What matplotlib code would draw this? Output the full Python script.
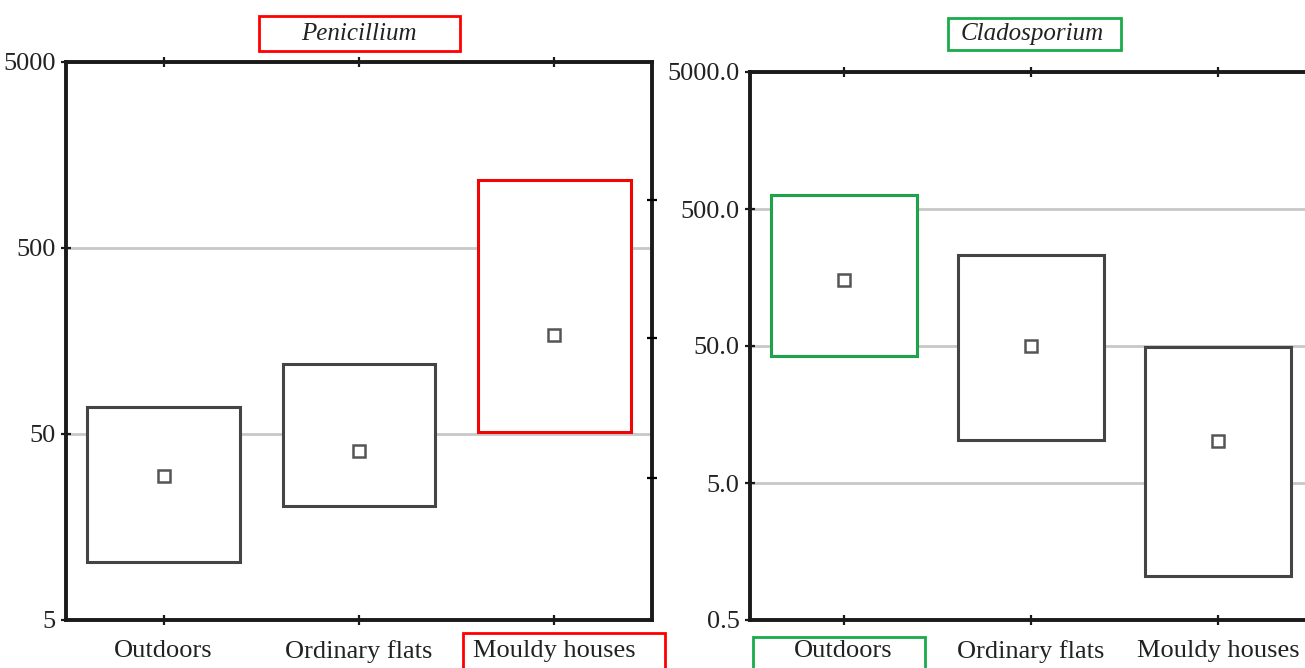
import matplotlib.pyplot as plt
from matplotlib.patches import Rectangle

plt.rcParams['font.family'] = ['Liberation Serif', 'DejaVu Serif']

# Categorias e valores (média, mínimo, máximo) de cada gênero
categorias = ['Outdoors', 'Ordinary flats', 'Mouldy houses']

pen_media = [29.7, 40.5, 170]
pen_min = [10.3, 20.5, 51]
pen_max = [70, 119, 1160]

clad_media = [152, 50, 10.1]
clad_min = [42, 10.3, 1.05]
clad_max = [632, 231, 49]

pen_yticks = [5, 50, 500, 5000]
pen_ylabels = ['5', '50', '500', '5000']
clad_yticks = [0.5, 5, 50, 500, 5000]
clad_ylabels = ['0.5', '5.0', '50.0', '500.0', '5000.0']

# marcas do eixo direito do painel da esquerda
pen_ticks_direita = [29, 164, 906]

W, H = 1305, 668
fig = plt.figure(figsize=(W / 100, H / 100), dpi=100)


def px(x0, y0, x1, y1):
    # converte caixa em pixels (origem no topo) para fração da figura
    return [x0 / W, 1 - y1 / H, (x1 - x0) / W, (y1 - y0) / H]


ax1 = fig.add_axes(px(66, 62, 652, 620))
ax2 = fig.add_axes(px(750, 72, 1312, 620))

LARG = 0.78


def desenhar_painel(ax, media, minimo, maximo, ylim, yticks, ylabels):
    ax.set_yscale('log')
    ax.set_xlim(-0.5, 2.5)
    ax.set_ylim(*ylim)
    for i in range(len(categorias)):
        ax.add_patch(Rectangle((i - LARG / 2, minimo[i]), LARG, maximo[i] - minimo[i],
                               facecolor='white', edgecolor='#444444', lw=2.2, zorder=2))
        ax.plot(i, media[i], marker='s', ms=8, mfc='white', mec='#555555', mew=1.8, zorder=3)
    ax.set_yticks(yticks)
    ax.set_yticklabels(ylabels)
    ax.minorticks_off()
    ax.set_xticks(range(len(categorias)))
    ax.set_xticklabels(categorias)
    ax.yaxis.grid(True, color='#c8c8c8', lw=2)
    ax.set_axisbelow(True)
    for s in ax.spines.values():
        s.set_linewidth(2.8)
        s.set_color('#1a1a1a')
    ax.tick_params(axis='both', direction='inout', length=7, width=1.6, labelsize=19,
                   color='#1a1a1a', labelcolor='#222222', top=True)
    ax.tick_params(axis='x', pad=11)
    ax.tick_params(axis='y', pad=4)


desenhar_painel(ax1, pen_media, pen_min, pen_max, (5, 5000), pen_yticks, pen_ylabels)
desenhar_painel(ax2, clad_media, clad_min, clad_max, (0.5, 5000), clad_yticks, clad_ylabels)

ax1d = ax1.twinx()
ax1d.set_yscale('log')
ax1d.set_ylim(5, 5000)
ax1d.set_yticks(pen_ticks_direita)
ax1d.minorticks_off()
ax1d.set_yticklabels([])
ax1d.tick_params(direction='inout', length=7, width=1.6)
for s in ax1d.spines.values():
    s.set_visible(False)

# destaques
i = 2
ax1.add_patch(Rectangle((i - LARG / 2, pen_min[i]), LARG, pen_max[i] - pen_min[i],
                        fill=False, edgecolor='red', lw=2, zorder=4))
i = 0
ax2.add_patch(Rectangle((i - LARG / 2, clad_min[i]), LARG, clad_max[i] - clad_min[i],
                        fill=False, edgecolor='#1aaa4a', lw=2, zorder=4))

fig.text(359 / W, 1 - 34 / H, 'Penicillium', fontsize=18, fontstyle='italic',
         ha='center', va='center', color='#222222')
fig.text(1032 / W, 1 - 34 / H, 'Cladosporium', fontsize=18, fontstyle='italic',
         ha='center', va='center', color='#222222')

for caixa, cor in [((259, 16, 460, 51), 'red'), ((463, 633, 665, 672), 'red'),
                   ((948, 18, 1121, 50), '#1aaa4a'), ((753, 637, 925, 672), '#1aaa4a')]:
    fig.patches.append(Rectangle(px(*caixa)[:2], *px(*caixa)[2:], transform=fig.transFigure,
                                 fill=False, edgecolor=cor, lw=2, figure=fig))

fig.savefig('out.png', dpi=100)
